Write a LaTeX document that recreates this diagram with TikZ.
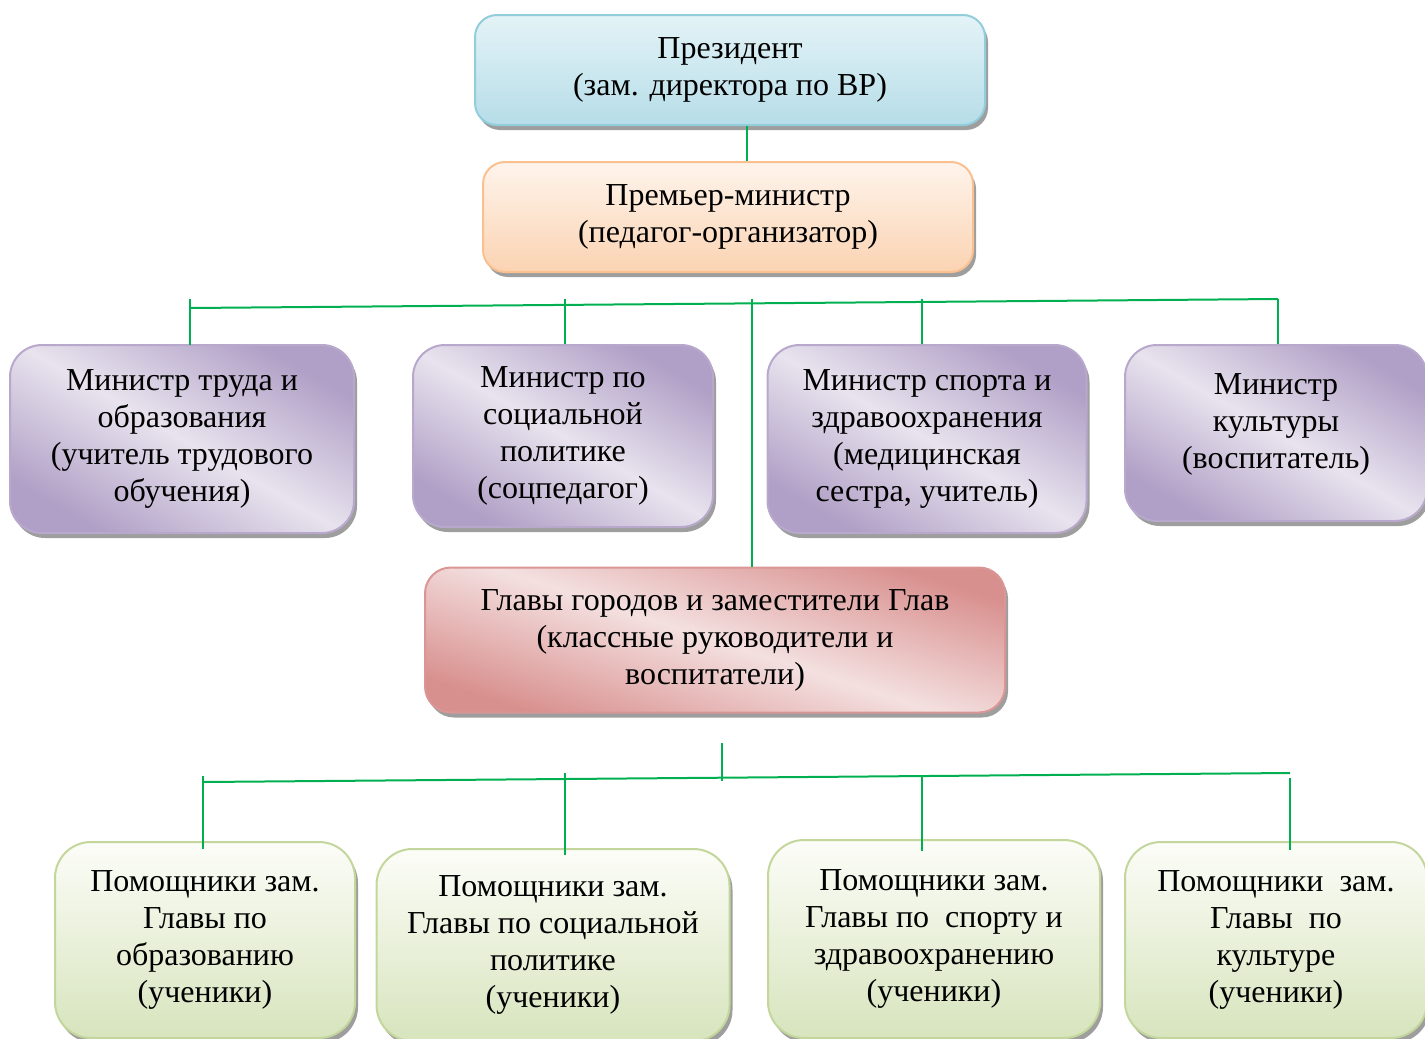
\documentclass[tikz,border=0pt]{standalone}
\usepackage{fontspec}
\setmainfont{Liberation Serif}
\usetikzlibrary{shadows,calc}
\definecolor{lnk}{HTML}{00B050}
\definecolor{bluB}{HTML}{92CDDC}
\definecolor{bluT}{HTML}{E4F3F7}
\definecolor{bluD}{HTML}{B6DDE8}
\definecolor{peaB}{HTML}{FAC090}
\definecolor{peaT}{HTML}{FEF4EC}
\definecolor{peaD}{HTML}{FBD3B2}
\definecolor{purB}{HTML}{B8A8CC}
\definecolor{purD}{HTML}{B09FC6}
\definecolor{purL}{HTML}{E8E3EE}
\definecolor{redB}{HTML}{D99694}
\definecolor{redD}{HTML}{D8908E}
\definecolor{redL}{HTML}{F4E0E0}
\definecolor{grnB}{HTML}{C3D69B}
\definecolor{grnT}{HTML}{FCFDF8}
\definecolor{grnD}{HTML}{D7E4BD}
\definecolor{shd}{HTML}{9E9E9E}
\tikzset{
  boxbase/.style={draw, line width=2pt, align=center, inner sep=0pt,
    font=\fontsize{32}{37}\selectfont,
    general shadow={fill=shd, shadow xshift=3pt, shadow yshift=-5pt}},
  topbox/.style={boxbase, rounded corners=22pt},
  presbox/.style={topbox, draw=bluB, top color=bluT, bottom color=bluD},
  prembox/.style={topbox, draw=peaB, top color=peaT, bottom color=peaD},
  minbox/.style={boxbase, rounded corners=32pt, draw=purB, shading=axis,
    top color=purD, bottom color=purD, middle color=purL, shading angle=-30},
  headbox/.style={boxbase, rounded corners=26pt, draw=redB, shading=axis,
    top color=redD, bottom color=redD, middle color=redL, shading angle=-18},
  helpbox/.style={boxbase, rounded corners=36pt, draw=grnB, top color=grnT, bottom color=grnD},
  wire/.style={draw=lnk, line width=2pt}
}
\begin{document}
\begin{tikzpicture}[x=1pt,y=-1pt]
\useasboundingbox (0,0) rectangle (1425,1039);
% top
\node[presbox, minimum width=510pt, minimum height=110pt] (pres) at (730,70)
  {Президент\\(зам. директора по ВР)};
\node[prembox, minimum width=490pt, minimum height=110pt] (prem) at (728,217)
  {Премьер-министр\\(педагог-организатор)};
% ministers
\node[minbox, minimum width=344pt, minimum height=188pt] (m1) at (182,439)
  {Министр труда и\\образования\\(учитель трудового\\обучения)};
\node[minbox, minimum width=300pt, minimum height=182pt] (m2) at (563,436)
  {Министр по\\социальной\\политике\\(соцпедагог)};
\node[minbox, minimum width=319pt, minimum height=188pt] (m3) at (927,439)
  {Министр спорта и\\здравоохранения\\(медицинская\\сестра, учитель)};
\node[minbox, minimum width=302pt, minimum height=176pt] (m4) at (1276,433)
  {Министр\\культуры\\(воспитатель)\\[-14pt]\mbox{}};
% heads
\node[headbox, minimum width=580pt, minimum height=145pt] (head) at (715,640)
  {Главы городов и заместители Глав\\(классные руководители и\\воспитатели)};
% helpers
\node[helpbox, minimum width=300pt, minimum height=196pt] (h1) at (205,940)
  {Помощники зам.\\Главы по\\образованию\\(ученики)};
\node[helpbox, minimum width=353pt, minimum height=192pt] (h2) at (553,945)
  {Помощники зам.\\Главы по социальной\\политике\\(ученики)};
\node[helpbox, minimum width=332pt, minimum height=198pt] (h3) at (934,939)
  {Помощники зам.\\Главы по~ спорту и\\здравоохранению\\(ученики)};
\node[helpbox, minimum width=302pt, minimum height=196pt] (h4) at (1276,940)
  {Помощники~ зам.\\Главы~ по\\культуре\\(ученики)};
% connectors top
\draw[wire] (pres.south -| 747,0) -- (prem.north -| 747,0);
\coordinate (busL) at (190,308);
\coordinate (busR) at (1278,299);
\coordinate (bus2) at (565,305);
\coordinate (busC) at (752,303);
\coordinate (bus3) at (922,302);
\draw[wire] (busL) -- (busR);
\draw[wire] (190,299) -- (190,345);
\draw[wire] (bus2 |- 0,299) -- (bus2 |- m2.north);
\draw[wire] (bus3 |- 0,299) -- (bus3 |- m3.north);
\draw[wire] (busR) -- (busR |- m4.north);
\draw[wire] (busC |- 0,299) -- (busC |- head.north);
% connectors bottom
\coordinate (lbusL) at (203,782);
\coordinate (lbusR) at (1290,773);
\coordinate (lbusC) at (722,778);
\draw[wire] (lbusL) -- (lbusR);
\draw[wire] (lbusC |- 0,743) -- (lbusC |- 0,781);
\draw[wire] (203,776) -- (203,849);
\draw[wire] (565,773) -- (565,855);
\draw[wire] (922,776) -- (922,851);
\draw[wire] (1290,778) -- (1290,850);
\end{tikzpicture}
\end{document}
